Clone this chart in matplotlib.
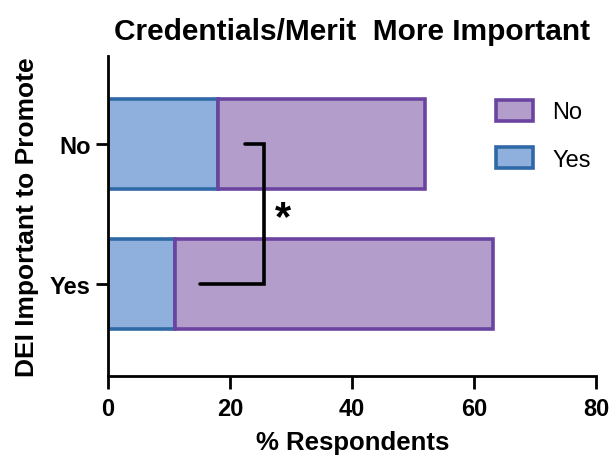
import numpy as np
import matplotlib.pyplot as plt

plt.rcParams['font.family'] = ['Liberation Sans', 'DejaVu Sans']

# DEI important to promote (rows); % answering credentials/merit more important
categories = ['Yes', 'No']
yes_vals = [11, 18]
no_vals = [52, 34]

fill_no = '#b39dcb'
edge_no = '#6a44a0'
fill_yes = '#8fb0dd'
edge_yes = '#2f68a6'

fig = plt.figure(figsize=(6.11, 4.6), dpi=100)
ax = fig.add_axes([0.177, 0.18, 0.799, 0.696])

pos = np.arange(len(categories))
ax.barh(pos, yes_vals, height=0.64, color=fill_yes, edgecolor=edge_yes,
        linewidth=2.6, label='Yes')
ax.barh(pos, no_vals, left=yes_vals, height=0.64, color=fill_no,
        edgecolor=edge_no, linewidth=2.6, label='No')

# significance bracket
ax.plot([22.5, 25.5, 25.5, 15.1], [1, 1, 0, 0], color='black', lw=2.6,
        solid_capstyle='round', solid_joinstyle='miter')
ax.text(28.7, 0.47, '*', fontsize=30, fontweight='bold', ha='center', va='center')

ax.set_xlim(0, 80)
ax.set_ylim(-0.66, 1.63)
ax.set_xticks([0, 20, 40, 60, 80])
ax.set_yticks(pos)
ax.set_yticklabels(categories)

for s in ['top', 'right']:
    ax.spines[s].set_visible(False)
for s in ['left', 'bottom']:
    ax.spines[s].set_linewidth(2)
ax.tick_params(width=2, length=9, labelsize=17)
ax.tick_params(axis='x', pad=6)
for lbl in ax.get_xticklabels() + ax.get_yticklabels():
    lbl.set_fontweight('bold')

ax.set_xlabel('% Respondents', fontsize=18.5, fontweight='bold', labelpad=7)
ax.set_ylabel('DEI Important to Promote', fontsize=19, fontweight='bold', labelpad=8)
ax.set_title('Credentials/Merit  More Important', fontsize=21.5, fontweight='bold', pad=12)

h, l = ax.get_legend_handles_labels()
ax.legend(h[::-1], l[::-1], loc='upper left', bbox_to_anchor=(0.75, 0.93),
          frameon=False, fontsize=17, handlelength=1.6, handleheight=1.0,
          labelspacing=1.0, handletextpad=0.8)

plt.savefig('out.png', dpi=100)
